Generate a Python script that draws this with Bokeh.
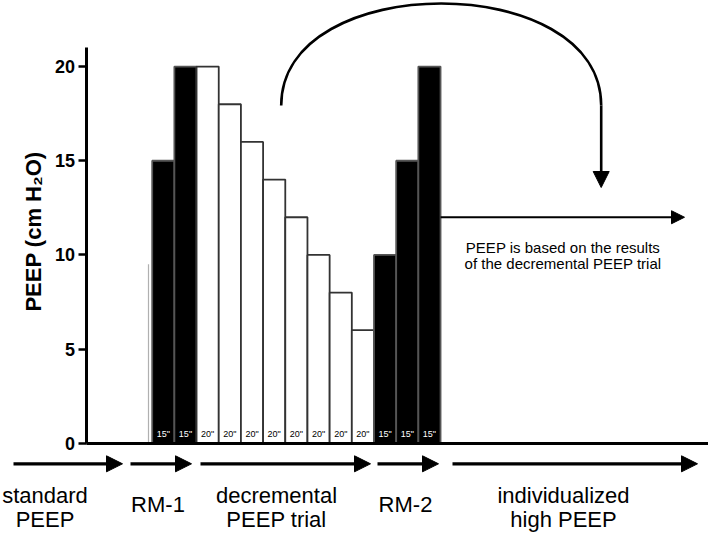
from bokeh.plotting import figure
from bokeh.models import Range1d, LinearAxis, FixedTicker, Arrow, NormalHead, ColumnDataSource
from bokeh.core.properties import value
from bokeh.embed import file_html
from bokeh.resources import INLINE

# ---------------- data ----------------
standard_peep = 9.5
rm1_peep = [15, 20]
rm1_time = ['15"', '15"']
decremental_peep = [20, 18, 16, 14, 12, 10, 8, 6]
decremental_time = ['20"', '20"', '20"', '20"', '20"', '20"', '20"', '20"']
rm2_peep = [10, 15, 20]
rm2_time = ['15"', '15"', '15"']
individualized_peep = 12
y_ticks = [0, 5, 10, 15, 20]
y_label = "PEEP (cm H\u2082O)"
phase_top = ["standard", "decremental", "individualized"]
phase_bottom = ["PEEP", "PEEP trial", "high PEEP"]
phase_single = ["RM-1", "RM-2"]
note_lines = ["PEEP is based on the results", "of the decremental PEEP trial"]

# ---------------- layout (page pixels -> data) ----------------
W, H = 708, 535
PAGE = 0
X0_PX, PX_PER_X = 151.7, 22.18
Y0_PX, PX_PER_Y = 442.7, 18.83


def px2x(px):
    return (px - X0_PX) / PX_PER_X


def py2y(py):
    return (Y0_PX - py) / PX_PER_Y


x_start, x_end = px2x(PAGE), px2x(PAGE + W)
y_start, y_end = py2y(PAGE + H), py2y(PAGE)
axis_x = px2x(85.5)
FONT = "Liberation Sans"

p = figure(width=W, height=H, output_backend="svg", toolbar_location=None,
           x_range=Range1d(x_start, x_end), y_range=Range1d(y_start, y_end),
           x_axis_location=None, y_axis_location=None, min_border=0)
p.min_border_left = p.min_border_right = p.min_border_top = p.min_border_bottom = 0
p.outline_line_color = None
p.grid.visible = False
p.background_fill_color = "white"
p.border_fill_color = "white"

# ---------------- bars ----------------
# standard PEEP bar (faint)
std_right = px2x(148)
p.quad(left=[axis_x], right=[std_right], bottom=[0], top=[standard_peep],
       fill_color="white", line_alpha=0)
p.segment(x0=[std_right], y0=[0], x1=[std_right], y1=[standard_peep],
          line_color="#b0b0b0", line_width=1.2)

values = rm1_peep + decremental_peep + rm2_peep
times = rm1_time + decremental_time + rm2_time
kinds = ["black"] * len(rm1_peep) + ["white"] * len(decremental_peep) + ["black"] * len(rm2_peep)
lefts = list(range(len(values)))
rights = [l + 1 for l in lefts]
centers = [l + 0.5 for l in lefts]
fills = ["black" if k == "black" else "white" for k in kinds]
lines = ["#555555" if k == "black" else "#333333" for k in kinds]
tcolors = ["white" if k == "black" else "black" for k in kinds]
src = ColumnDataSource(dict(left=lefts, right=rights, top=values, fill=fills, line=lines,
                            cx=centers, t=times, tc=tcolors))
p.quad(left="left", right="right", bottom=0, top="top", fill_color="fill",
       line_color="line", line_width=1.8, source=src)
p.text(x="cx", y=py2y(433.5), text="t", text_color="tc", text_align="center",
       text_baseline="middle", text_font=value(FONT), text_font_size="9px", source=src)

# ---------------- axes ----------------
yax = LinearAxis(fixed_location=axis_x, bounds=(0, 21), ticker=FixedTicker(ticks=y_ticks))
yax.axis_line_width = 3
yax.major_tick_line_width = 2.5
yax.major_tick_out = 8
yax.major_tick_in = 0
yax.minor_tick_line_color = None
yax.major_label_text_font = FONT
yax.major_label_text_font_style = "bold"
yax.major_label_text_font_size = "18px"
yax.major_label_text_color = "black"
yax.major_label_standoff = 3
p.add_layout(yax, "left")

# axis title carried by a line-less axis so it can be centred like the reference
lab_ax = LinearAxis(fixed_location=axis_x, bounds=(0, 2 * py2y(231)),
                    ticker=FixedTicker(ticks=[]), axis_label=y_label)
lab_ax.axis_line_color = None
lab_ax.major_tick_line_color = None
lab_ax.minor_tick_line_color = None
lab_ax.major_tick_out = 0
lab_ax.major_label_standoff = 0
lab_ax.major_label_text_font_size = "0px"
lab_ax.axis_label_text_font = FONT
lab_ax.axis_label_text_font_style = "bold"
lab_ax.axis_label_text_font_size = "22px"
lab_ax.axis_label_text_color = "black"
lab_ax.axis_label_standoff = 41
p.add_layout(lab_ax, "left")

xax = LinearAxis(fixed_location=0, bounds=(axis_x, x_end), ticker=FixedTicker(ticks=[]))
xax.axis_line_width = 3
xax.major_tick_line_color = None
xax.minor_tick_line_color = None
xax.major_label_text_font_size = "0px"
p.add_layout(xax, "below")

# ---------------- individualized PEEP arrow ----------------
ind_src = ColumnDataSource(dict(x0=[rights[-1]], y0=[individualized_peep],
                                x1=[px2x(684)], y1=[individualized_peep]))
p.add_layout(Arrow(end=NormalHead(size=13, fill_color="black", line_color="black"),
                   x_start="x0", y_start="y0", x_end="x1", y_end="y1",
                   line_width=2.2, line_color="black", source=ind_src))
p.text(x=[px2x(562.5)] * 2, y=[py2y(246.7), py2y(263.3)], text=note_lines,
       text_align="center", text_baseline="alphabetic", text_font=value(FONT),
       text_font_size="15px", text_color="black")

# ---------------- curved arrow ----------------
cx0, cx1 = px2x(280.7), px2x(600.7)
cy = py2y(105)
ry = py2y(3) - cy
p.bezier(x0=[cx0], y0=[cy], x1=[cx1], y1=[cy], cx0=[cx0], cy0=[cy + 4 / 3 * ry],
         cx1=[cx1], cy1=[cy + 4 / 3 * ry], line_width=2.6, line_color="black")
arc_src = ColumnDataSource(dict(x0=[cx1], y0=[cy], x1=[cx1], y1=[py2y(187)]))
p.add_layout(Arrow(end=NormalHead(size=16, fill_color="black", line_color="black"),
                   x_start="x0", y_start="y0", x_end="x1", y_end="y1",
                   line_width=2.6, line_color="black", source=arc_src))

# ---------------- phase arrows & labels ----------------
arrow_px = [(13, 122), (130, 191), (200, 370), (377, 438), (452, 697)]
ph_src = ColumnDataSource(dict(x0=[px2x(a) for a, b in arrow_px], x1=[px2x(b) for a, b in arrow_px],
                               y=[py2y(463.3)] * len(arrow_px)))
p.add_layout(Arrow(end=NormalHead(size=16, fill_color="black", line_color="black"),
                   x_start="x0", y_start="y", x_end="x1", y_end="y",
                   line_width=3.2, line_color="black", source=ph_src))

two_line_cx = [px2x(44.5), px2x(276), px2x(563)]
p.text(x=two_line_cx, y=[py2y(495)] * 3, text=phase_top, text_align="center",
       text_baseline="middle", text_font=value(FONT), text_font_size="22px",
       text_color="black")
p.text(x=two_line_cx, y=[py2y(518.5)] * 3, text=phase_bottom, text_align="center",
       text_baseline="middle", text_font=value(FONT), text_font_size="22px",
       text_color="black")
p.text(x=[px2x(157.5), px2x(405)], y=[py2y(503.5)] * 2, text=phase_single,
       text_align="center", text_baseline="middle", text_font=value(FONT),
       text_font_size="22px", text_color="black")

open("out.html", "w").write(file_html(p, INLINE))
